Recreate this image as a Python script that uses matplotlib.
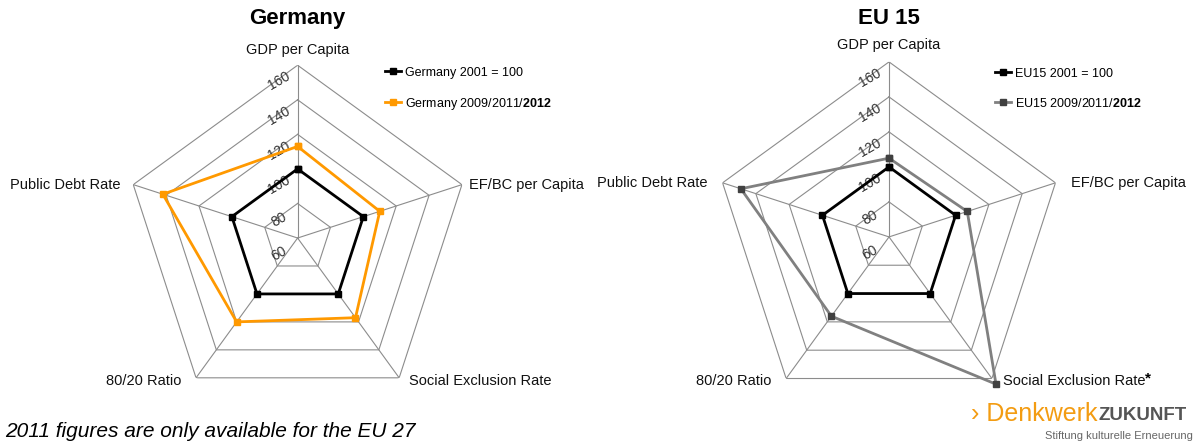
import matplotlib.pyplot as plt
import numpy as np

plt.rcParams['font.family'] = ['Liberation Sans', 'DejaVu Sans']
plt.rcParams['mathtext.fontset'] = 'custom'
plt.rcParams['mathtext.rm'] = 'Liberation Sans'
plt.rcParams['mathtext.bf'] = 'Liberation Sans:bold'

categories = ['GDP per Capita', 'EF/BC per Capita', 'Social Exclusion Rate',
              '80/20 Ratio', 'Public Debt Rate']
ring_values = [60, 80, 100, 120, 140, 160]

germany_2001 = [100, 100, 100, 100, 100]
germany_latest = [113, 110, 117, 120, 142]
eu15_2001 = [100, 100, 100, 100, 100]
eu15_latest = [105, 107, 164, 116, 149]

grid_col = '#8c8c8c'


def closed(vals):
    return list(vals) + [vals[0]]


def radar(rect, title, title_x, series, offsets, legend_xy, star=False):
    ax = fig.add_axes(rect, projection='polar')
    ax.set_theta_zero_location('N')
    ax.set_theta_direction(-1)
    ax.set_ylim(ring_values[0], ring_values[-1])
    ax.grid(False)
    ax.set_xticks([])
    ax.set_yticks([])
    ax.spines['polar'].set_visible(False)
    ax.patch.set_visible(False)

    theta = np.linspace(0, 2 * np.pi, len(categories), endpoint=False)
    tc = closed(theta)

    # pentagon rings and spokes
    for r in ring_values[1:]:
        ax.plot(tc, [r] * len(tc), color=grid_col, lw=0.8, zorder=1)
    for t in theta:
        ax.plot([t, t], [ring_values[0], ring_values[-1]], color=grid_col, lw=0.8, zorder=1)

    # value labels along the top spoke
    for r in ring_values:
        ax.annotate(str(r), xy=(0, r), xytext=(-19, -16), textcoords='offset pixels',
                    rotation=30, ha='center', va='center', fontsize=10,
                    color='#333333', zorder=2)

    # category labels at the outer vertices
    for t, cat, (dx, dy, ha) in zip(theta, categories, offsets):
        txt = ax.annotate(cat, xy=(t, ring_values[-1]), xytext=(dx, dy),
                          textcoords='offset pixels', ha=ha, va='center',
                          fontsize=10.5, color='#111111', annotation_clip=False)
        if star and cat == 'Social Exclusion Rate':
            ax.annotate('*', xy=(1, 1), xycoords=txt, xytext=(0, 2),
                        textcoords='offset pixels', ha='left', va='top',
                        fontsize=11, weight='bold')

    for vals, label, col, mcol in series:
        ax.plot(tc, closed(vals), color=col, lw=2.0, marker='s', ms=4.5,
                mfc=mcol, mec=mcol, label=label, clip_on=False, zorder=5)

    fig.text(title_x, 0.959, title, ha='center', va='center', fontsize=16, weight='bold')

    ax.legend(loc='upper left', bbox_to_anchor=legend_xy, bbox_transform=fig.transFigure,
              frameon=False, fontsize=9, handlelength=1.3, handletextpad=0.3,
              labelspacing=1.35, borderpad=0, borderaxespad=0)
    return ax


fig = plt.figure(figsize=(12, 4.42), dpi=100)

radar([0.104, 0.070, 0.288, 0.783], 'Germany', 0.248,
      [(germany_2001, 'Germany 2001 = 100', 'black', 'black'),
       (germany_latest, 'Germany 2009/2011/$\\mathbf{2012}$', '#ff9900', '#ff9900')],
      [(0, 15, 'center'), (7, 0, 'left'), (10, -3, 'left'),
       (-15, -3, 'right'), (-13, 0, 'right')],
      (0.321, 0.849))

radar([0.595, 0.068, 0.2917, 0.792], 'EU 15', 0.741,
      [(eu15_2001, 'EU15 2001 = 100', 'black', 'black'),
       (eu15_latest, 'EU15 2009/2011/$\\mathbf{2012}$', '#808080', '#404040')],
      [(0, 17, 'center'), (16, 0, 'left'), (11, -2, 'left'),
       (-15, -2, 'right'), (-15, 0, 'right')],
      (0.829, 0.847), star=True)

fig.text(0.004, 0.003, '2011 figures are only available for the EU 27',
         style='italic', fontsize=15, va='bottom', ha='left')

# logo
logo = fig.text(0.809, 0.063, '\u203a Denkwerk', color='#f39c12', fontsize=18,
                va='center', ha='left')
fig.add_artist(plt.Annotation('ZUKUNFT', xy=(1, 0), xycoords=logo, xytext=(1, 2),
                              textcoords='offset pixels', color='#555555',
                              fontsize=13.5, weight='bold', ha='left', va='bottom'))
fig.text(0.994, 0.013, 'Stiftung kulturelle Erneuerung', color='#666666',
         fontsize=8, ha='right', va='center')

fig.savefig('out.png', dpi=100)
